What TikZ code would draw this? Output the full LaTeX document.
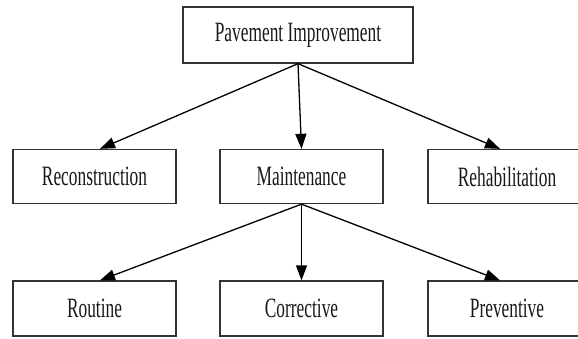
\documentclass[tikz,border=0pt]{standalone}
\usepackage{fontspec}
\setmainfont{Liberation Serif}[FakeStretch=0.62]
\usetikzlibrary{arrows.meta}
\begin{document}
\begin{tikzpicture}[x=1pt,y=-1pt,
  box/.style={draw=black!80,line width=1.3pt,fill=white,minimum height=54pt,inner sep=0pt,
    font=\fontsize{28}{30}\selectfont,text=black!90},
  conn/.style={draw=black,line width=1.3pt,-{Triangle[length=15pt,width=11pt]}}]
\useasboundingbox (0,0) rectangle (578,338);
\clip (0,0) rectangle (578,338);
\fill[white] (0,0) rectangle (578,338);
\node[box,minimum width=230pt,minimum height=56pt] (top) at (298,35) {Pavement Improvement};
\node[box,minimum width=163pt] (recon) at (94.5,176.5) {Reconstruction};
\node[box,minimum width=163pt] (maint) at (301.5,176.5) {Maintenance};
\node[box,minimum width=158pt] (rehab) at (507,176.5) {Rehabilitation};
\node[box,minimum width=163pt,minimum height=55pt] (rout) at (94.5,308.5) {Routine};
\node[box,minimum width=163pt,minimum height=55pt] (corr) at (301.5,308.5) {Corrective};
\node[box,minimum width=158pt,minimum height=55pt] (prev) at (507,308.5) {Preventive};
\draw[conn] (top.south) -- ([xshift=5.5pt]recon.north);
\draw[conn] (top.south) -- (maint.north);
\draw[conn] (top.south) -- ([xshift=-7pt]rehab.north);
\draw[conn] (maint.south) -- ([xshift=5.5pt]rout.north);
\draw[conn] (maint.south) -- (corr.north);
\draw[conn] (maint.south) -- ([xshift=-7pt]prev.north);
\end{tikzpicture}
\end{document}
